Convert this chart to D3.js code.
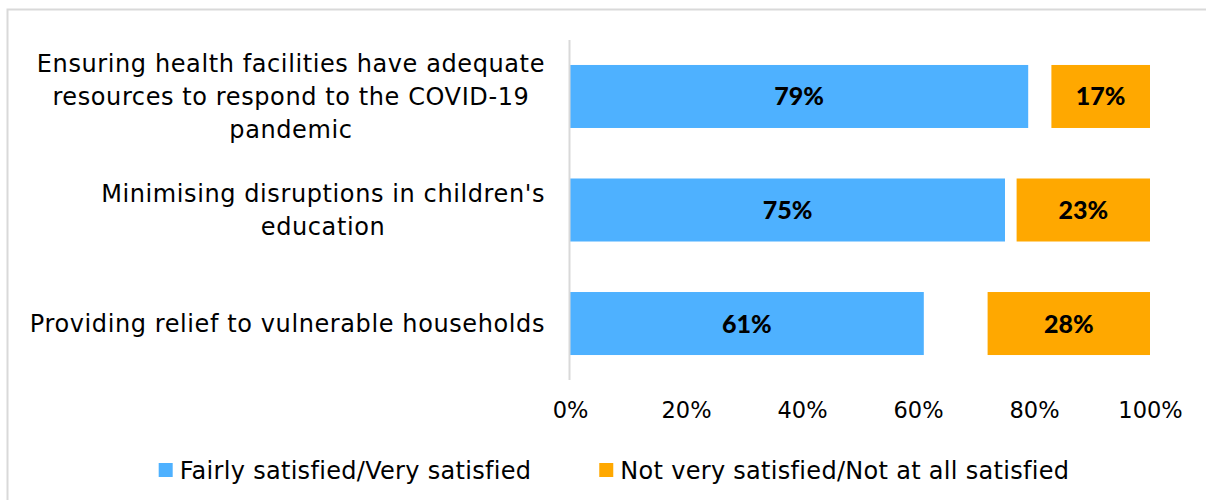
<!DOCTYPE html>
<html>
<head>
<meta charset="utf-8">
<script src="https://cdn.jsdelivr.net/npm/d3@7"></script>
<style>
  html, body { margin: 0; padding: 0; background: #ffffff; }
  svg { display: block; }
  text { font-family: "Century Gothic", "DejaVu Sans", sans-serif; fill: #000; }
  text.value { font-family: "Century Gothic", "Lato", sans-serif; font-weight: 900; }
</style>
</head>
<body>
<svg id="chart" width="1206" height="500"></svg>
<script>
// Survey items (top to bottom), each split into lines as shown on the axis
const categories = [
  "Ensuring health facilities have adequate|resources to respond to the COVID-19|pandemic",
  "Minimising disruptions in children's|education",
  "Providing relief to vulnerable households"
];
// Share of respondents (%)
const satisfied = [79, 75, 61];
const dontKnow = [4, 2, 11];          // unlabelled remainder, left blank between the two bars
const notSatisfied = [17, 23, 28];
const seriesNames = ["Fairly satisfied/Very satisfied", "Not very satisfied/Not at all satisfied"];
const tickValues = [0, 20, 40, 60, 80, 100];

const colors = { sat: "#4EB1FF", not: "#FFA800" };

const svg = d3.select("#chart");
const W = 1206, H = 500;

// Outer chart frame (continues past the right and bottom edges)
svg.append("rect")
  .attr("x", 7.5).attr("y", 9.5)
  .attr("width", W + 20).attr("height", H + 20)
  .attr("fill", "none").attr("stroke", "#d9d9d9").attr("stroke-width", 2);

const x = d3.scaleLinear().domain([0, 100]).range([570, 1150]);
const y = d3.scaleBand().domain(d3.range(categories.length)).range([40, 380]).paddingInner(0.445).paddingOuter(0.22);

// Stack the three segments per row
const rows = categories.map((c, i) => ({ i, sat: satisfied[i], blank: dontKnow[i], not: notSatisfied[i] }));
const layers = d3.stack().keys(["sat", "blank", "not"])(rows);

const g = svg.append("g");
layers.forEach(layer => {
  if (layer.key === "blank") return;
  g.selectAll(null).data(layer).enter().append("rect")
    .attr("x", d => x(d[0]))
    .attr("y", d => y(d.data.i))
    .attr("width", d => x(d[1]) - x(d[0]))
    .attr("height", y.bandwidth())
    .attr("fill", colors[layer.key]);

  g.selectAll(null).data(layer).enter().append("text")
    .attr("class", "value")
    .attr("x", d => (x(d[0]) + x(d[1])) / 2)
    .attr("y", d => y(d.data.i) + y.bandwidth() / 2)
    .attr("dy", "0.36em")
    .attr("text-anchor", "middle")
    .attr("font-size", 25)
    .text(d => d.data[layer.key] + "%");
});

// Category axis line
svg.append("line")
  .attr("x1", 569.5).attr("x2", 569.5)
  .attr("y1", 40).attr("y2", 380)
  .attr("stroke", "#d9d9d9").attr("stroke-width", 2);

// Category labels: block right-aligned against the axis, lines centred within the block
const labelRight = 545, lineH = 33, catFont = 24;
categories.forEach((c, i) => {
  const lines = c.split("|");
  const grp = svg.append("g");
  const texts = lines.map((l, k) => grp.append("text")
    .attr("font-size", catFont)
    .attr("letter-spacing", 0.6)
    .attr("text-anchor", "middle")
    .attr("dy", "0.36em")
    .attr("y", y(i) + y.bandwidth() / 2 + (k - (lines.length - 1) / 2) * lineH)
    .text(l));
  const maxW = d3.max(texts, t => t.node().getComputedTextLength());
  texts.forEach(t => t.attr("x", labelRight - maxW / 2));
});

// Value axis (labels only)
const xAxis = d3.axisBottom(x).tickValues(tickValues).tickFormat(d => d + "%").tickSize(0).tickPadding(0);
const ax = svg.append("g").attr("transform", "translate(0,402)").call(xAxis);
ax.select(".domain").remove();
ax.selectAll("text").attr("font-size", 22.5).attr("fill", "#000").attr("font-family", null);

// Legend
const legend = svg.append("g");
const items = [{ name: seriesNames[0], color: colors.sat }, { name: seriesNames[1], color: colors.not }];
const itemGap = 68;
let cx = 0;
items.forEach(it => {
  const gi = legend.append("g").attr("transform", `translate(${cx},0)`);
  gi.append("rect").attr("x", 0).attr("y", -7).attr("width", 14).attr("height", 14).attr("fill", it.color);
  const t = gi.append("text").attr("x", 21).attr("dy", "0.36em")
    .attr("font-size", 24).attr("letter-spacing", 0.3).text(it.name);
  cx += 21 + t.node().getComputedTextLength() + itemGap;
});
const totalW = cx - itemGap;
legend.attr("transform", `translate(${614 - totalW / 2},470)`);
</script>
</body>
</html>
